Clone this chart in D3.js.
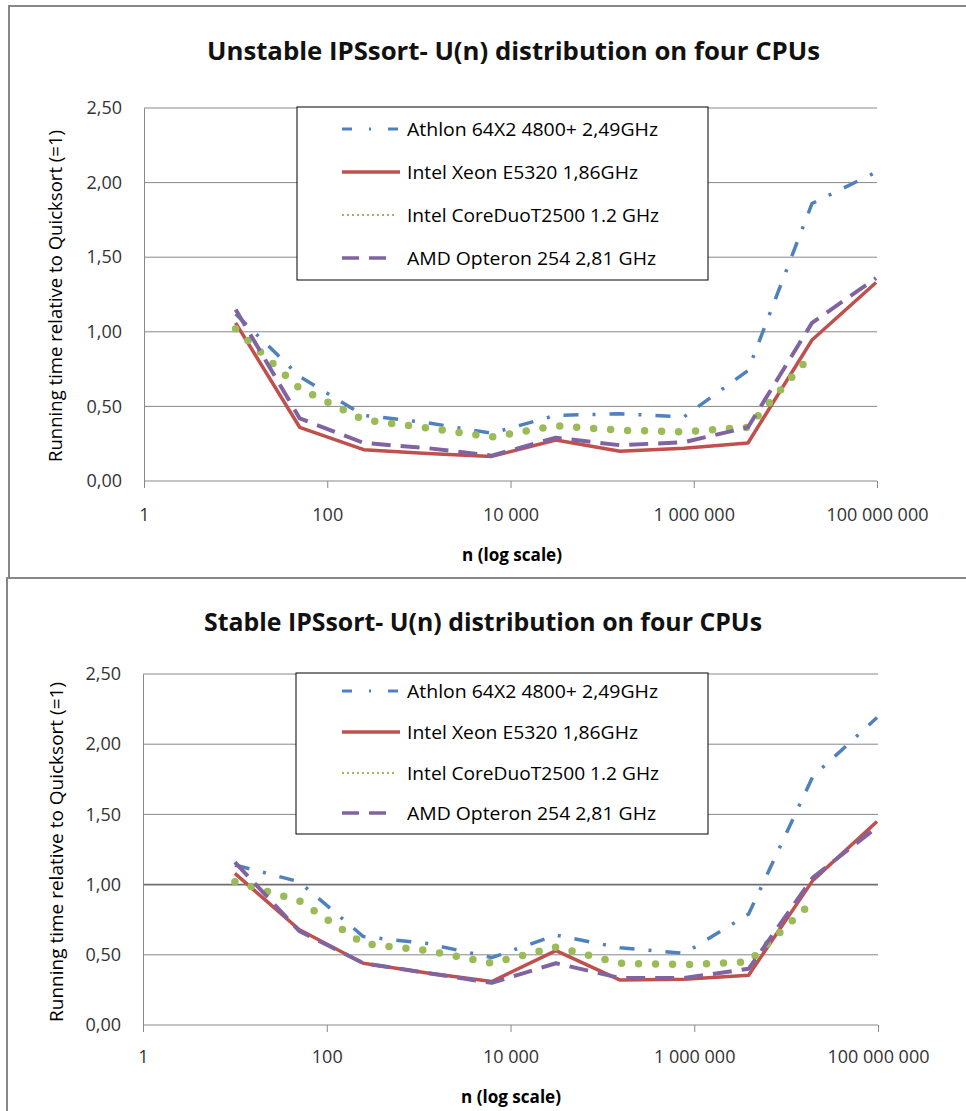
<!DOCTYPE html>
<html>
<head>
<meta charset="utf-8">
<script src="https://cdn.jsdelivr.net/npm/d3@7"></script>
<style>
  body { margin: 0; background: #fff; }
  svg { display: block; font-family: "Open Sans", "Noto Sans", sans-serif; }
</style>
</head>
<body>
<svg width="966" height="1111"></svg>
<script>
// n values: 10 * 5^k
const nValues = [10, 50, 250, 1250, 6250, 31250, 156250, 781250, 3906250, 19531250, 97656250];
const seriesNames = [
  'Athlon 64X2 4800+ 2,49GHz',
  'Intel Xeon E5320 1,86GHz',
  'Intel CoreDuoT2500 1.2 GHz',
  'AMD Opteron 254 2,81 GHz'
];
const xTicks = [1, 100, 1e4, 1e6, 1e8];
const yTicks = [0, 0.5, 1, 1.5, 2, 2.5];

// unstable chart
const unstableAthlon  = [1.12, 0.70, 0.44, 0.39, 0.32, 0.44, 0.45, 0.43, 0.74, 1.86, 2.07];
const unstableXeon    = [1.06, 0.36, 0.21, 0.185, 0.165, 0.275, 0.20, 0.22, 0.255, 0.945, 1.33];
const unstableCoreDuo = [1.02, 0.62, 0.41, 0.355, 0.295, 0.37, 0.34, 0.33, 0.36, 0.85, null];
const unstableOpteron = [1.15, 0.42, 0.255, 0.22, 0.17, 0.29, 0.24, 0.26, 0.36, 1.06, 1.36];

// stable chart
const stableAthlon  = [1.14, 1.02, 0.63, 0.58, 0.48, 0.64, 0.55, 0.51, 0.79, 1.77, 2.19];
const stableXeon    = [1.08, 0.68, 0.44, 0.37, 0.31, 0.53, 0.32, 0.325, 0.355, 1.03, 1.45];
const stableCoreDuo = [1.02, 0.885, 0.58, 0.53, 0.44, 0.555, 0.44, 0.43, 0.45, 0.88, null];
const stableOpteron = [1.16, 0.67, 0.44, 0.37, 0.30, 0.44, 0.335, 0.335, 0.40, 1.05, 1.41];

// line styles, one per series
const lineStyles = [
  { color: '#4F81BD', width: 3.5, dash: '15,14,3,14', cap: 'butt', legendWidth: 3, legendDash: '10,17,2,17', legendEnd: 400 },
  { color: '#C0504D', width: 3.5, dash: null, cap: 'butt', legendWidth: 3.5, legendDash: null, legendEnd: 400 },
  { color: '#9BBB59', width: 7.5, dash: '0,17', cap: 'round', legendWidth: 2, legendDash: '2,3', legendEnd: 396 },
  { color: '#8064A2', width: 4, dash: '19,10', cap: 'butt', legendWidth: 3.5, legendDash: '17,10', legendEnd: 387 }
];

const svg = d3.select('svg');
const locale = d3.formatLocale({ decimal: ',', thousands: ' ', grouping: [3], currency: ['', ''] });
const xFormat = locale.format(',d');
const yFormat = locale.format('.2f');

const fit = (sel, w) => sel.attr('textLength', w).attr('lengthAdjust', 'spacingAndGlyphs');

const render = cfg => {
  const { plot } = cfg;
  const xScale = d3.scaleLog().domain([1, 1e8]).range([plot.left, plot.right]);
  const yScale = d3.scaleLinear().domain([0, 2.5]).range([plot.bottom, plot.top]);

  const g = svg.append('g');

  // frame
  g.append('path')
    .attr('d', `M${cfg.frame.x},${cfg.frame.bottom} V${cfg.frame.y} H975`)
    .attr('fill', 'none')
    .attr('stroke', '#878787')
    .attr('stroke-width', 2);

  // title
  g.append('text')
    .attr('x', cfg.titleX)
    .attr('y', cfg.titleY)
    .attr('font-size', 25)
    .attr('font-weight', 'bold')
    .attr('fill', '#111')
    .text(cfg.title)
    .call(fit, cfg.titleW);

  // gridlines
  g.selectAll('.grid').data(yTicks)
    .enter().append('line')
      .attr('x1', plot.left)
      .attr('x2', plot.right)
      .attr('y1', d => yScale(d))
      .attr('y2', d => yScale(d))
      .attr('stroke', d => (cfg.darkOne && d === 1) ? '#6e6e6e' : '#888')
      .attr('stroke-width', d => (cfg.darkOne && d === 1) ? 1.6 : 1);

  // y axis
  const yAxisG = g.append('g')
    .attr('transform', `translate(${plot.left},0)`)
    .call(d3.axisLeft(yScale).tickValues(yTicks).tickFormat(yFormat).tickSize(0).tickSizeOuter(0).tickPadding(22));
  yAxisG.select('.domain').attr('stroke', '#888');
  yAxisG.selectAll('text')
    .attr('font-family', '"Open Sans", sans-serif')
    .attr('font-size', 18)
    .attr('fill', '#333');

  // x axis
  const xAxisG = g.append('g')
    .attr('transform', `translate(0,${plot.bottom})`)
    .call(d3.axisBottom(xScale).tickValues(xTicks).tickFormat(xFormat).tickSize(7).tickSizeOuter(0).tickPadding(cfg.xPad));
  xAxisG.select('.domain').remove();
  xAxisG.selectAll('.tick line').attr('stroke', '#888');
  xAxisG.selectAll('text')
    .attr('font-family', '"Open Sans", sans-serif')
    .attr('font-size', 18)
    .attr('fill', '#333');

  // axis titles
  g.append('text')
    .attr('transform', `translate(${cfg.yTitleX},${cfg.yTitleY}) rotate(-90)`)
    .attr('text-anchor', 'middle')
    .attr('font-size', 19)
    .attr('fill', '#000')
    .text('Running time  relative to Quicksort (=1)')
    .call(fit, cfg.yTitleW);

  g.append('text')
    .attr('x', cfg.xTitleX)
    .attr('y', cfg.xTitleY)
    .attr('text-anchor', 'middle')
    .attr('font-size', 17)
    .attr('font-weight', 'bold')
    .attr('fill', '#000')
    .text('n (log scale)')
    .call(fit, 100);

  // series
  const line = d3.line()
    .defined(d => d.v != null)
    .x(d => xScale(d.n))
    .y(d => yScale(d.v));

  cfg.series.forEach((vals, i) => {
    const s = lineStyles[i];
    g.append('path')
      .datum(nValues.map((n, j) => ({ n, v: vals[j] })))
      .attr('d', line)
      .attr('fill', 'none')
      .attr('stroke', s.color)
      .attr('stroke-width', s.width)
      .attr('stroke-dasharray', s.dash)
      .attr('stroke-linecap', s.cap)
      .attr('stroke-linejoin', 'round');
  });

  // legend
  const lg = cfg.legend;
  g.append('rect')
    .attr('x', lg.x).attr('y', lg.y)
    .attr('width', lg.w).attr('height', lg.h)
    .attr('fill', '#fff')
    .attr('stroke', '#000')
    .attr('stroke-width', 1);

  seriesNames.forEach((name, i) => {
    const s = lineStyles[i];
    const y = lg.rows[i];
    g.append('line')
      .attr('x1', 342).attr('x2', s.legendEnd)
      .attr('y1', y).attr('y2', y)
      .attr('stroke', s.color)
      .attr('stroke-width', s.legendWidth)
      .attr('stroke-dasharray', s.legendDash);
    g.append('text')
      .attr('x', 407)
      .attr('y', y)
      .attr('dy', '0.35em')
      .attr('font-size', 19)
      .attr('fill', '#000')
      .text(name)
      .call(fit, lg.widths[i]);
  });
};

render({
  title: 'Unstable IPSsort- U(n) distribution on four CPUs',
  titleX: 207, titleY: 60, titleW: 613,
  frame: { x: 9, y: 6, bottom: 578 },
  plot: { left: 144, right: 877, top: 108, bottom: 481 },
  xPad: 20,
  yTitleX: 62, yTitleY: 296, yTitleW: 332,
  xTitleX: 512, xTitleY: 561,
  legend: { x: 297, y: 107, w: 411, h: 173, rows: [129, 172, 215, 258], widths: [251, 231, 252, 249] },
  series: [unstableAthlon, unstableXeon, unstableCoreDuo, unstableOpteron]
});

render({
  title: 'Stable IPSsort- U(n) distribution on four CPUs',
  titleX: 204, titleY: 631, titleW: 558,
  frame: { x: 7, y: 578, bottom: 1120 },
  plot: { left: 143, right: 878, top: 674, bottom: 1025 },
  xPad: 18,
  darkOne: true,
  yTitleX: 63, yTitleY: 852, yTitleW: 340,
  xTitleX: 511, xTitleY: 1103,
  legend: { x: 296, y: 673, w: 412, h: 161, rows: [691, 732, 773, 813], widths: [251, 231, 252, 249] },
  series: [stableAthlon, stableXeon, stableCoreDuo, stableOpteron]
});
</script>
</body>
</html>
